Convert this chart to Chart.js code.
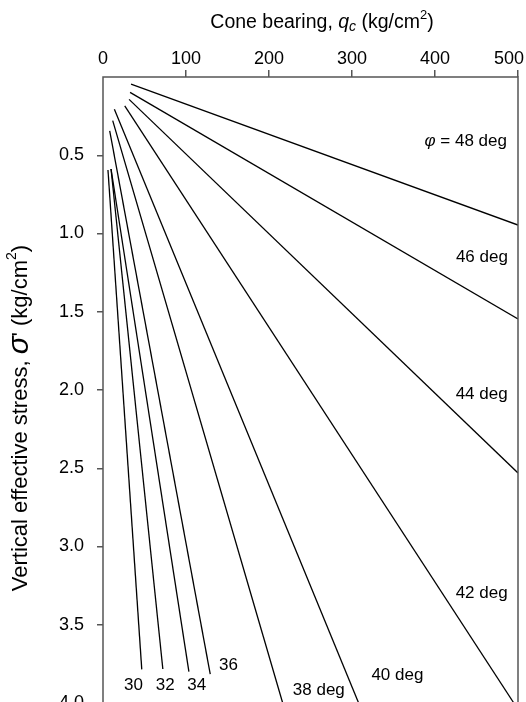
<!DOCTYPE html>
<html>
<head>
<meta charset="utf-8">
<script src="https://cdn.jsdelivr.net/npm/chart.js@4/dist/chart.umd.min.js"></script>
<style>
  body { margin: 0; background: #fff; }
  #wrap { width: 526px; height: 702px; overflow: hidden; }
</style>
</head>
<body>
<div id="wrap"><canvas id="chart" width="526" height="740"></canvas></div>
<script>
// friction angle curves: start and end points (qc in kg/cm2, stress in kg/cm2)
const phiLabels   = ['30', '32', '34', '36', '38 deg', '40 deg', '42 deg', '44 deg', '46 deg', '= 48 deg'];
const startQc     = [6, 9.7, 9.7, 8.1, 11.7, 13.7, 26.2, 31.4, 32.6, 33.8];
const startStress = [0.594, 0.588, 0.588, 0.345, 0.279, 0.206, 0.185, 0.143, 0.098, 0.045];
const endQc       = [46.7, 72.1, 103.5, 129.2, 216.5, 308, 495, 500, 500, 500];
const endStress   = [3.785, 3.783, 3.80, 3.815, 4.0, 4.0, 4.0, 2.53, 1.546, 0.946];

// where each curve label sits (data units)
const labelQc     = [36.6, 74.9, 113, 151.3, 260, 354.7, 456.2, 456.2, 456.5, 437];
const labelStress = [3.89, 3.89, 3.89, 3.76, 3.92, 3.82, 3.30, 2.03, 1.15, 0.41];

const qcTicks = [0, 100, 200, 300, 400, 500];
const stressTicks = [0.5, 1.0, 1.5, 2.0, 2.5, 3.0, 3.5, 4.0];

const FONT = '"Liberation Sans", Arial, sans-serif';

const datasets = phiLabels.map((name, i) => ({
    label: name,
    data: [
        { x: startQc[i], y: startStress[i] },
        { x: endQc[i], y: endStress[i] }
    ],
    showLine: true,
    borderColor: '#000',
    borderWidth: 1.3,
    pointRadius: 0,
    fill: false
}));

// draw a run of text pieces with their own fonts, centred on (cx, cy)
function drawRich(ctx, parts, cx, cy) {
    let total = 0;
    parts.forEach(p => {
        ctx.font = p.font;
        p.w = ctx.measureText(p.text).width;
        total += p.w;
    });
    let x = cx - total / 2;
    ctx.textAlign = 'left';
    ctx.textBaseline = 'middle';
    parts.forEach(p => {
        ctx.font = p.font;
        ctx.fillText(p.text, x, cy + (p.dy || 0));
        x += p.w;
    });
}

const decorPlugin = {
    id: 'decor',
    afterDraw(chart) {
        const ctx = chart.ctx;
        const area = chart.chartArea;
        const xs = chart.scales.x;
        const ys = chart.scales.y;

        ctx.save();
        // plot box
        ctx.strokeStyle = '#555';
        ctx.lineWidth = 1.5;
        ctx.strokeRect(area.left, area.top, area.right - area.left, area.bottom - area.top);

        ctx.fillStyle = '#000';

        // last top tick label, pulled in so it stays on the page
        const last = qcTicks[qcTicks.length - 1];
        ctx.font = '18px ' + FONT;
        ctx.textAlign = 'right';
        ctx.textBaseline = 'middle';
        ctx.fillText(String(last), xs.getPixelForValue(last) + 6, 59);

        // curve labels
        phiLabels.forEach((name, i) => {
            const px = xs.getPixelForValue(labelQc[i]);
            const py = ys.getPixelForValue(labelStress[i]);
            if (i === phiLabels.length - 1) {
                drawRich(ctx, [
                    { text: 'φ', font: 'italic 17px ' + FONT },
                    { text: ' ' + name, font: '17px ' + FONT }
                ], px, py);
            } else {
                drawRich(ctx, [{ text: name, font: '17px ' + FONT }], px, py);
            }
        });

        // top axis title
        drawRich(ctx, [
            { text: 'Cone bearing, ', font: '19.5px ' + FONT },
            { text: 'q', font: 'italic 19.5px ' + FONT },
            { text: 'c', font: 'italic 14px ' + FONT, dy: 4 },
            { text: ' (kg/cm', font: '19.5px ' + FONT },
            { text: '2', font: '13px ' + FONT, dy: -8 },
            { text: ')', font: '19.5px ' + FONT }
        ], 322, 23);

        // left axis title
        ctx.translate(21, 418);
        ctx.rotate(-Math.PI / 2);
        drawRich(ctx, [
            { text: 'Vertical effective stress, ', font: '22px ' + FONT },
            { text: 'σ', font: 'italic 30px ' + FONT, dy: -1 },
            { text: '\' (kg/cm', font: '22px ' + FONT },
            { text: '2', font: '14px ' + FONT, dy: -9 },
            { text: ')', font: '22px ' + FONT }
        ], 0, 0);
        ctx.restore();
    }
};

const tickColor = c => (c.tick && c.tick.value === 0) ? 'rgba(0,0,0,0)' : '#555';

new Chart(document.getElementById('chart'), {
    type: 'scatter',
    data: { datasets: datasets },
    options: {
        responsive: false,
        animation: false,
        layout: { padding: { left: 0, right: 8, top: 0, bottom: 37 } },
        plugins: {
            legend: { display: false },
            tooltip: { enabled: false }
        },
        scales: {
            x: {
                type: 'linear',
                position: 'top',
                min: 0,
                max: 500,
                afterBuildTicks: s => { s.ticks = qcTicks.map(v => ({ value: v })); },
                afterFit: s => {
                    s.height = 77;
                    s.paddingLeft = 0;
                    s.paddingRight = 0;
                },
                ticks: {
                    color: '#000',
                    font: { family: FONT, size: 18 },
                    padding: 0,
                    maxRotation: 0,
                    // the end label is drawn by the plugin instead
                    callback: v => (v === qcTicks[qcTicks.length - 1] ? '' : String(v))
                },
                grid: {
                    drawOnChartArea: false,
                    drawTicks: true,
                    tickLength: 7,
                    color: tickColor,
                    lineWidth: 1.5
                },
                border: { display: false }
            },
            y: {
                type: 'linear',
                reverse: true,
                min: 0,
                max: 4.0,
                afterBuildTicks: s => { s.ticks = stressTicks.map(v => ({ value: v })); },
                afterFit: s => {
                    s.width = 103;
                    s.paddingTop = 0;
                    s.paddingBottom = 0;
                },
                ticks: {
                    color: '#000',
                    font: { family: FONT, size: 18 },
                    padding: 13,
                    callback: v => Number(v).toFixed(1)
                },
                grid: {
                    drawOnChartArea: false,
                    drawTicks: true,
                    tickLength: 6,
                    color: tickColor,
                    lineWidth: 1.5
                },
                border: { display: false }
            }
        }
    },
    plugins: [decorPlugin]
});
</script>
</body>
</html>
